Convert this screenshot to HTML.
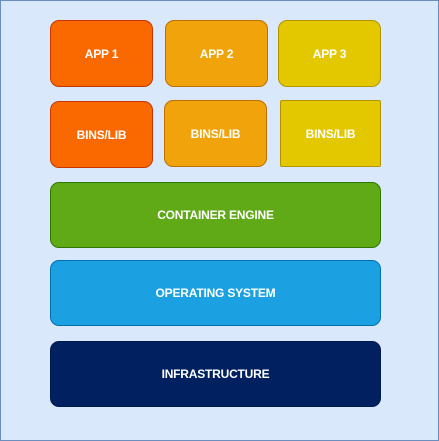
<!DOCTYPE html><html><head><style>
body{margin:0;width:439px;height:441px;overflow:hidden}
#f{position:absolute;left:0;top:0;width:437px;height:439px;background:#dae8fc;border:1px solid #6c8ebf}
.b{position:absolute;box-sizing:border-box;border-radius:9px;display:flex;align-items:center;justify-content:center;color:#fff;font:bold 12px "Liberation Sans",sans-serif;letter-spacing:-0.2px}
</style></head><body><div id="f"></div>
<div class="b" style="left:50px;top:20px;width:103px;height:67px;background:#fa6800;border:1px solid #c73500">APP 1</div>
<div class="b" style="left:165px;top:20px;width:103px;height:67px;background:#f0a30a;border:1px solid #bd7000">APP 2</div>
<div class="b" style="left:278px;top:20px;width:103px;height:67px;background:#e3c800;border:1px solid #b09500">APP 3</div>
<div class="b" style="left:50px;top:101px;width:103px;height:67px;background:#fa6800;border:1px solid #c73500">BINS/LIB</div>
<div class="b" style="left:164px;top:100px;width:103px;height:67px;background:#f0a30a;border:1px solid #bd7000">BINS/LIB</div>
<div class="b" style="left:280px;top:100px;width:101px;height:67px;background:#e3c800;border:1px solid #b09500;border-radius:2px">BINS/LIB</div>
<div class="b" style="left:50px;top:182px;width:331px;height:66px;background:#60a917;border:1px solid #2d7600">CONTAINER ENGINE</div>
<div class="b" style="left:50px;top:260px;width:331px;height:66px;background:#1ba1e2;border:1px solid #006eaf">OPERATING SYSTEM</div>
<div class="b" style="left:50px;top:341px;width:331px;height:66px;background:#002060;border:1px solid #001a50">INFRASTRUCTURE</div>
</body></html>
